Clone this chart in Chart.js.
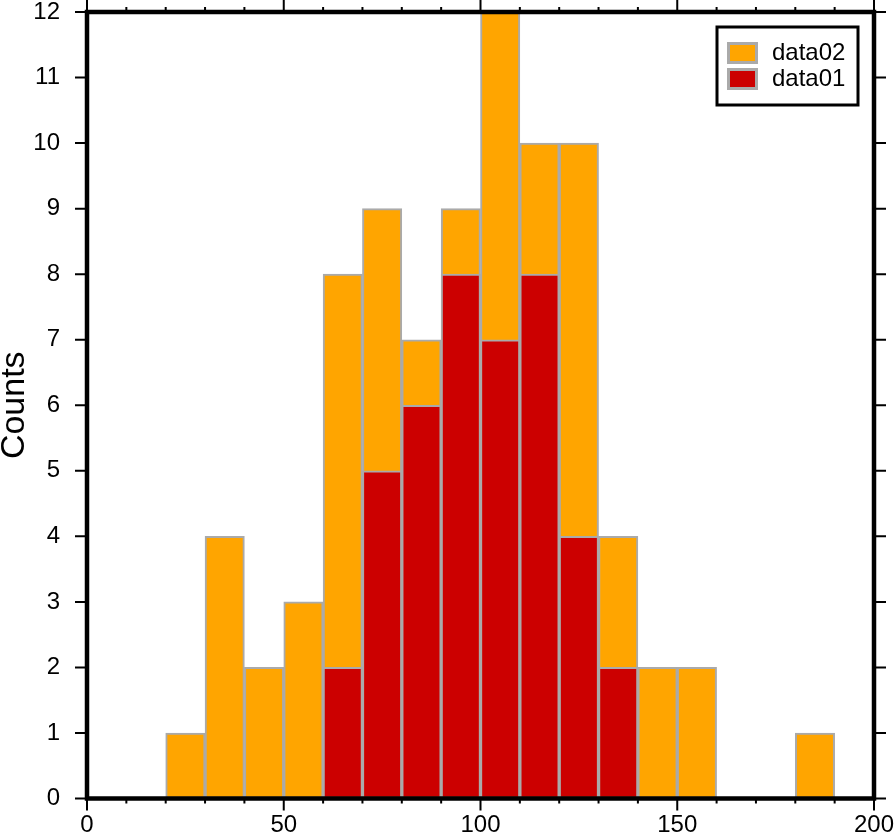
<!DOCTYPE html>
<html>
<head>
<meta charset="utf-8">
<script src="https://cdn.jsdelivr.net/npm/chart.js@4/dist/chart.umd.min.js"></script>
<style>
  html, body { margin: 0; padding: 0; background: #fff; }
  #wrap { width: 894px; height: 835px; }
</style>
</head>
<body>
<div id="wrap"><canvas id="histo" width="894" height="835"></canvas></div>
<script>
// histogram bins (left edge of each 10-wide bin)
var binStarts = [0, 10, 20, 30, 40, 50, 60, 70, 80, 90, 100, 110, 120, 130, 140, 150, 160, 170, 180, 190];
var binWidth = 10;
var data02 = [0, 0, 1, 4, 2, 3, 8, 9, 7, 9, 12, 10, 10, 4, 2, 2, 0, 0, 1, 0];
var data01 = [0, 0, 0, 0, 0, 0, 2, 5, 6, 8, 7, 8, 4, 2, 0, 0, 0, 0, 0, 0];
var xTicks = [0, 50, 100, 150, 200];
var yTicks = [0, 1, 2, 3, 4, 5, 6, 7, 8, 9, 10, 11, 12];

var FONT = '"Liberation Sans", Arial, Helvetica, sans-serif';

function toPoints(counts) {
    return binStarts.map(function(b, i) {
        return { x: b + binWidth / 2, y: counts[i] };
    });
}

function barBorder(ctx) {
    return ctx.raw && ctx.raw.y ? 2 : 0;
}

// black frame + GMT style ticks on all four sides
var framePlugin = {
    id: 'frame',
    afterDraw: function(chart) {
        var ctx = chart.ctx, a = chart.chartArea;
        var xs = chart.scales.x, ys = chart.scales.y;
        ctx.save();
        ctx.strokeStyle = '#000';
        ctx.lineWidth = 2;
        ctx.beginPath();
        yTicks.forEach(function(v) {
            var py = ys.getPixelForValue(v);
            ctx.moveTo(a.left - 12, py); ctx.lineTo(a.left, py);
            ctx.moveTo(a.right, py); ctx.lineTo(a.right + 12, py);
        });
        for (var v = 0; v <= 200; v += 10) {
            var px = xs.getPixelForValue(v);
            var len = (v % 50 === 0) ? 12 : 5;
            ctx.moveTo(px, a.bottom); ctx.lineTo(px, a.bottom + len);
            ctx.moveTo(px, a.top); ctx.lineTo(px, a.top - len);
        }
        ctx.stroke();
        ctx.lineWidth = 4.5;
        ctx.strokeRect(a.left, a.top, a.right - a.left, a.bottom - a.top);
        ctx.restore();
    }
};

// boxed legend in the upper right corner, data02 listed first
var legendPlugin = {
    id: 'boxLegend',
    afterDraw: function(chart) {
        var ctx = chart.ctx, a = chart.chartArea;
        var sets = chart.data.datasets.slice().reverse();
        var bx = a.right - 157, by = a.top + 15, bw = 141, bh = 78;
        ctx.save();
        ctx.fillStyle = '#fff';
        ctx.fillRect(bx, by, bw, bh);
        ctx.lineWidth = 3;
        ctx.strokeStyle = '#000';
        ctx.strokeRect(bx, by, bw, bh);
        ctx.font = '24px ' + FONT;
        ctx.textBaseline = 'middle';
        sets.forEach(function(ds, i) {
            var sy = by + 15 + i * 26;
            ctx.fillStyle = '#aaaaaa';
            ctx.fillRect(bx + 10, sy, 31, 22);
            ctx.fillStyle = ds.backgroundColor;
            ctx.fillRect(bx + 13, sy + 3, 25, 16);
            ctx.fillStyle = '#000';
            ctx.fillText(ds.label, bx + 55, sy + 11.5);
        });
        ctx.restore();
    }
};

var chart = new Chart(document.getElementById('histo'), {
    type: 'bar',
    data: {
        datasets: [{
            label: 'data01',
            data: toPoints(data01),
            backgroundColor: '#cc0000',
            borderColor: '#aaaaaa',
            borderWidth: barBorder,
            borderSkipped: false,
            grouped: false,
            barPercentage: 1,
            categoryPercentage: 1
        }, {
            label: 'data02',
            data: toPoints(data02),
            backgroundColor: '#ffa500',
            borderColor: '#aaaaaa',
            borderWidth: barBorder,
            borderSkipped: false,
            grouped: false,
            barPercentage: 1,
            categoryPercentage: 1
        }]
    },
    options: {
        responsive: false,
        animation: false,
        layout: { padding: { top: 12, right: 20, left: 0, bottom: 0 } },
        plugins: {
            legend: { display: false },
            tooltip: { enabled: false }
        },
        scales: {
            x: {
                type: 'linear',
                min: 0,
                max: 200,
                offset: false,
                afterBuildTicks: function(scale) {
                    scale.ticks = xTicks.map(function(v) { return { value: v }; });
                },
                afterFit: function(scale) {
                    scale.height = 36.5;
                    scale.paddingLeft = 0;
                    scale.paddingRight = 0;
                },
                grid: { display: false },
                border: { display: false },
                ticks: {
                    padding: 4,
                    maxRotation: 0,
                    autoSkip: false,
                    color: '#000',
                    font: { family: FONT, size: 24 }
                }
            },
            y: {
                min: 0,
                max: 12,
                afterBuildTicks: function(scale) {
                    scale.ticks = yTicks.map(function(v) { return { value: v }; });
                },
                afterFit: function(scale) {
                    scale.width = 87;
                    scale.paddingTop = 0;
                    scale.paddingBottom = 0;
                },
                grid: { display: false },
                border: { display: false },
                title: {
                    display: true,
                    text: 'Counts',
                    color: '#000',
                    padding: { top: 0, bottom: 0 },
                    font: { family: FONT, size: 34, lineHeight: 0.85 }
                },
                ticks: {
                    padding: 19,
                    autoSkip: false,
                    color: '#000',
                    font: { family: FONT, size: 24 }
                }
            }
        }
    },
    plugins: [framePlugin, legendPlugin]
});
</script>
</body>
</html>
